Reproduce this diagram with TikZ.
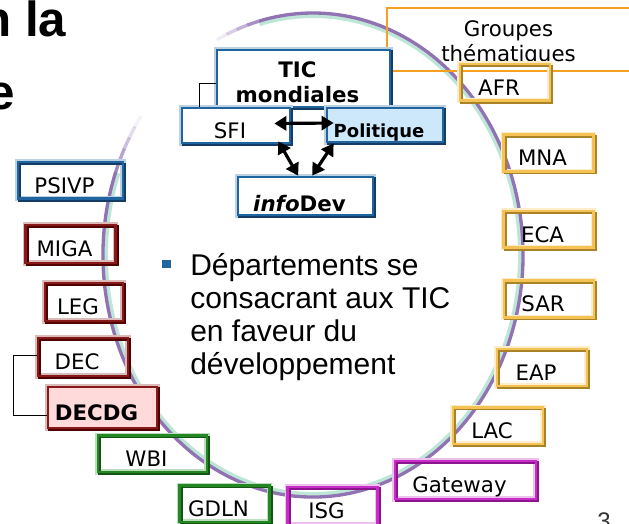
\documentclass[tikz,border=0pt]{standalone}
\usepackage{fontspec}
\setmainfont{Liberation Sans}
\newfontfamily\boxfont{DejaVu Sans}
\usepackage{tikz}
\usetikzlibrary{positioning,calc,arrows.meta}
\usepackage{xcolor}
\definecolor{tblue}{RGB}{32,100,160}
\definecolor{tblueD}{RGB}{20,60,100}
\definecolor{tgold}{RGB}{245,195,85}
\definecolor{tgoldD}{RGB}{170,130,40}
\definecolor{tred}{RGB}{135,25,25}
\definecolor{tredD}{RGB}{80,0,0}
\definecolor{tgreen}{RGB}{35,135,35}
\definecolor{tgreenD}{RGB}{20,85,20}
\definecolor{tmag}{RGB}{200,45,200}
\definecolor{tmagD}{RGB}{140,20,140}
\definecolor{torange}{RGB}{245,160,30}
\definecolor{tarc}{RGB}{145,115,180}
\definecolor{tmint}{RGB}{190,230,215}
\definecolor{tpol}{RGB}{205,232,250}
\definecolor{tpink}{RGB}{255,218,218}

\begin{document}
\begin{tikzpicture}[x=0.75pt,y=-0.75pt,
	dept/.style 2 args={draw=#1,line width=2pt,inner sep=0pt,minimum width=67.5pt,minimum height=27.5pt,
		font=\boxfont\fontsize{16}{18.5}\selectfont,text height=19pt,text depth=0pt,
		execute at end node=\hspace*{9pt},
		preaction={draw=#1!30,line width=4pt},
		preaction={draw=#2,transform canvas={shift={(1.3pt,-1.3pt)}}}},
	dbl/.style={{Triangle[length=9pt,width=10.5pt]}-{Triangle[length=9pt,width=10.5pt]},line width=2.4pt},
	arcl/.style={draw=tarc,line width=2.5pt},
	bigtxt/.style={inner sep=0pt,anchor=base west}]
	\useasboundingbox (0,0) rectangle (629,524);
	\coordinate (c) at (313,255);
	% the ring
	\draw[tmint,line width=3pt] (c) ++(-160:207 and 239) arc[start angle=-160,end angle=-465,x radius=207,y radius=239];
	\draw[arcl] (c) ++(-160:210 and 242) arc[start angle=-160,end angle=-465,x radius=210,y radius=242];
	\foreach \a/\o in {145/0.1,148/0.25,151/0.45,154/0.65,157/0.85}
		\draw[arcl,opacity=\o] (c) ++(-\a:210 and 242) arc[start angle=-\a,delta angle=-3.2,x radius=210,y radius=242];
	\foreach \a/\o in {465/0.8,468/0.55,471/0.35,474/0.15}
		\draw[arcl,opacity=\o] (c) ++(-\a:210 and 242) arc[start angle=-\a,delta angle=-3.2,x radius=210,y radius=242];
	% title
	\node[bigtxt,font=\fontsize{37}{40}\selectfont\bfseries] (ttl) at (-19,37) {n la};
	\node[bigtxt,font=\fontsize{37}{40}\selectfont\bfseries] (ttl2) at (-13,110) {e};
	% thematic groups
	\node[draw=torange,line width=2pt,minimum width=182.25pt,minimum height=47.25pt,align=center,
		font=\boxfont\fontsize{16}{18.75}\selectfont] (grp) at (508.5,39.5) {\rule{0pt}{17pt}Groupes\\thématiques};
	\node[dept={tgold}{tgoldD}] (afr) at (505,82.5) {AFR};
	\node[dept={tgold}{tgoldD}] (mna) at (548.5,153) {MNA};
	\node[dept={tgold}{tgoldD}] (eca) at (548.5,229.5) {ECA};
	\node[dept={tgold}{tgoldD}] (sar) at (549,299) {SAR};
	\node[dept={tgold}{tgoldD}] (eap) at (542,367.5) {EAP};
	\node[dept={tgold}{tgoldD}] (lac) at (498,425.5) {LAC};
	\node[dept={tmag}{tmagD},minimum width=105.75pt,minimum height=28.5pt] (gtw) at (465.5,480) {Gateway};
	\node[dept={tmag}{tmagD},minimum height=28.5pt] (isg) at (332.5,506) {ISG};
	\node[dept={tgreen}{tgreenD}] (gdln) at (224.5,503.5) {GDLN};
	\node[dept={tgreen}{tgreenD},minimum width=81.75pt] (wbi) at (152.5,453.5) {WBI};
	\node[dept={tred}{tredD},fill=tpink,minimum width=81.75pt,minimum height=30.75pt,font=\boxfont\bfseries\fontsize{16}{18.5}\selectfont] (decdg) at (102.5,407.5) {DECDG};
	\node[dept={tred}{tredD},minimum height=28.5pt] (dec) at (83,357) {DEC};
	\node[dept={tred}{tredD},minimum width=58.5pt,minimum height=28.5pt] (leg) at (84,302) {LEG};
	\node[dept={tred}{tredD},minimum height=28.5pt] (miga) at (70.5,244) {MIGA};
	\node[dept={tblue}{tblueD},minimum width=78.75pt] (psivp) at (70.5,180.5) {PSIVP};
	\draw[thin] ([yshift=1.5pt]dec.west) -- ++(-17.25pt,0) |- ([yshift=-5.6pt]decdg.west);
	% global ICT
	\node[dept={tblue}{tblueD},fill=white,minimum width=129.75pt,minimum height=42.75pt,align=center,
		text height=,text depth=,execute at end node=,
		font=\boxfont\bfseries\fontsize{16}{18.75}\selectfont] (tic) at (303.5,78.5) {\rule{0pt}{18pt}TIC\\mondiales};
	\node[dept={tblue}{tblueD},fill=white,minimum width=81pt,minimum height=26.25pt] (sfi) at (236,125.5) {SFI};
	\node[dept={tblue}{tblueD},fill=tpol,minimum width=87pt,minimum height=25.5pt,execute at end node=,
		font=\boxfont\bfseries\fontsize{13.5}{16}\selectfont] (pol) at (385,125) {Politique};
	\node[dept={tblue}{tblueD},fill=white,minimum width=101.25pt,minimum height=28.5pt,text height=23pt,
		execute at end node=,
		font=\boxfont\bfseries\fontsize{16}{18.5}\selectfont] (info) at (305.5,196) {\textit{info}Dev};
	\draw[thin] ([xshift=14.25pt]sfi.north west) |- ([yshift=-3.4pt]tic.west);
	\draw[dbl] ([shift={(-12.75pt,1.5pt)}]sfi.east) -- ([shift={(6pt,1.5pt)}]pol.west);
	\draw[dbl] ([shift={(-9.75pt,2.25pt)}]sfi.south east) -- ([xshift=-5.5pt]info.north);
	\draw[dbl] ([xshift=6pt]pol.south west) -- ([xshift=5pt]info.north);
	% bullet text
	\node[fill=tblue,minimum size=6.5pt,inner sep=0pt] (bul) at (166.5,264) {};
	\node[bigtxt,align=left,font=\fontsize{22.5}{24.75}\selectfont] (txt) at (190,374)
		{Départements se\\consacrant aux TIC\\en faveur du\\développement};
	\node[inner sep=0pt,anchor=north,font=\fontsize{18}{20}\selectfont,text=black!80] (pg) at (604,512) {3};
\end{tikzpicture}
\end{document}
